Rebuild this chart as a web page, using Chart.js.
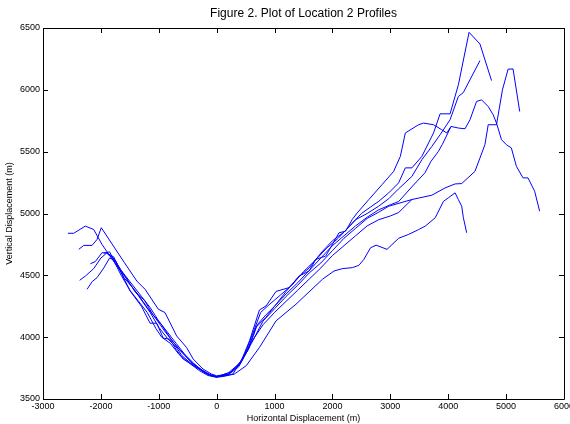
<!DOCTYPE html>
<html>
<head>
<meta charset="utf-8">
<script src="https://cdn.jsdelivr.net/npm/chart.js@4.4.0/dist/chart.umd.min.js"></script>
<style>
  html, body { margin: 0; padding: 0; background: #fff; overflow: hidden; }
  #wrap { width: 577px; height: 424px; }
</style>
</head>
<body>
<div id="wrap"><canvas id="chart"></canvas></div>
<script>
// Profile data (horizontal m, vertical m)
const profileAX = [-2570, -2470, -2270, -2125, -1981, -1850, -1700, -1550, -1400, -1250, -1100, -950, -800, -650, -500, -350, -200, -80, 0, 250, 450, 600, 760, 900, 1100, 1300, 1500, 1700, 1900, 2100, 2300, 2500, 2650, 2801, 2973, 3144, 3259, 3373, 3545, 3746, 3860, 4032, 4175, 4360, 4548, 4748];
const profileAY = [4840, 4840, 4898, 4871, 4750, 4660, 4560, 4470, 4360, 4300, 4180, 4100, 3990, 3900, 3830, 3760, 3710, 3685, 3678, 3720, 3820, 4000, 4200, 4260, 4340, 4420, 4530, 4620, 4720, 4800, 4900, 5000, 5050, 5099, 5167, 5248, 5369, 5369, 5462, 5651, 5806, 5806, 6040, 6465, 6371, 6075];

const profileBX = [-2383, -2297, -2153, -2067, -1993, -1593, -1380, -1237, -1008, -893, -692, -521, -405, -235, -91, 0, 200, 350, 550, 700, 850, 1000, 1200, 1400, 1600, 1800, 2000, 2200, 2400, 2600, 2801, 2973, 3144, 3373, 3545, 3718, 3860, 4032, 4175, 4261, 4548];
const profileBY = [4710, 4742, 4742, 4790, 4885, 4602, 4454, 4387, 4226, 4199, 4010, 3917, 3823, 3742, 3702, 3688, 3700, 3760, 3900, 4100, 4180, 4250, 4370, 4480, 4560, 4680, 4780, 4850, 4950, 5000, 5060, 5120, 5200, 5300, 5435, 5543, 5637, 5758, 5946, 5978, 6236];

const profileCX = [-2182, -2100, -1981, -1900, -1800, -1650, -1500, -1350, -1200, -1050, -950, -800, -650, -500, -300, -150, 0, 150, 280, 424, 567, 739, 854, 1026, 1254, 1426, 1598, 1713, 1884, 2113, 2228, 2342, 2428, 2629, 2858, 3058, 3173, 3259, 3488, 3574, 3746, 3889, 3975, 4049, 4175, 4290, 4376, 4490, 4576, 4691, 4777, 4834, 4920, 5005, 5091, 5177, 5292, 5378, 5493, 5579];
const profileCY = [4594, 4610, 4683, 4680, 4640, 4500, 4380, 4290, 4200, 4070, 4000, 3950, 3860, 3800, 3730, 3690, 3675, 3685, 3702, 3809, 3970, 4220, 4253, 4370, 4401, 4495, 4535, 4629, 4656, 4844, 4857, 4952, 5005, 5113, 5234, 5341, 5462, 5651, 5718, 5731, 5718, 5677, 5651, 5704, 5691, 5685, 5758, 5906, 5919, 5865, 5798, 5731, 5597, 5556, 5530, 5382, 5288, 5288, 5180, 5019];

const profileDX = [-2367, -2268, -2125, -2000, -1900, -1780, -1650, -1495, -1300, -1151, -1036, -923, -808, -700, -579, -400, -235, -100, 0, 200, 400, 600, 800, 1000, 1200, 1400, 1600, 1800, 2000, 2200, 2400, 2600, 2801, 2973, 3373, 3718, 3947, 4118, 4233, 4462, 4634, 4691, 4834, 4937, 5034, 5120, 5235];
const profileDY = [4460, 4494, 4554, 4640, 4680, 4650, 4520, 4373, 4250, 4113, 4113, 3992, 3984, 3900, 3823, 3770, 3729, 3690, 3680, 3700, 3780, 3950, 4130, 4230, 4330, 4420, 4520, 4600, 4700, 4800, 4880, 4960, 5011, 5059, 5113, 5148, 5207, 5239, 5242, 5341, 5556, 5718, 5718, 6000, 6167, 6169, 5825];

const profileEX = [-2239, -2150, -2067, -1950, -1850, -1750, -1600, -1450, -1300, -1150, -1000, -850, -700, -600, -450, -300, -150, 0, 300, 510, 739, 1026, 1369, 1827, 2027, 2170, 2342, 2457, 2543, 2658, 2755, 2943, 3144, 3316, 3488, 3603, 3775, 3918, 4003, 4118, 4175, 4233, 4261, 4319];
const profileEY = [4387, 4450, 4481, 4560, 4640, 4620, 4480, 4400, 4300, 4200, 4080, 3990, 3920, 3850, 3790, 3740, 3700, 3680, 3700, 3769, 3917, 4132, 4266, 4468, 4535, 4554, 4562, 4581, 4629, 4723, 4744, 4710, 4800, 4831, 4870, 4898, 4965, 5099, 5127, 5167, 5113, 5059, 4968, 4844];

const profileFX = [-1950, -1850, -1750, -1600, -1450, -1300, -1150, -1000, -850, -700, -550, -400, -250, -100, 0, 200, 380, 520, 680, 850, 1000, 1200, 1400, 1600, 1800, 2000, 2200, 2400, 2600, 2800, 3000, 3144, 3400, 3600, 3700, 3832, 3900, 4049];
const profileFY = [4680, 4690, 4600, 4510, 4420, 4330, 4240, 4130, 4040, 3950, 3860, 3790, 3730, 3695, 3680, 3695, 3760, 3880, 4080, 4160, 4250, 4350, 4440, 4540, 4640, 4740, 4820, 4900, 4970, 5030, 5070, 5097, 5230, 5330, 5420, 5503, 5560, 5704];

const profileGX = [-1880, -1780, -1650, -1500, -1350, -1200, -1050, -900, -750, -600, -450, -300, -150, 0, 200, 400, 600, 800, 1000, 1200, 1400, 1600, 1800, 2000, 2200, 2400, 2600, 2800, 3000, 3144, 3373];
const profileGY = [4670, 4640, 4540, 4430, 4340, 4240, 4150, 4050, 3960, 3880, 3800, 3750, 3700, 3680, 3710, 3790, 3960, 4100, 4200, 4290, 4380, 4470, 4560, 4660, 4740, 4820, 4900, 4950, 4980, 5008, 5113];

const profilesX = [profileAX, profileBX, profileCX, profileDX, profileEX, profileFX, profileGX];
const profilesY = [profileAY, profileBY, profileCY, profileDY, profileEY, profileFY, profileGY];

const xTicks = [-3000, -2000, -1000, 0, 1000, 2000, 3000, 4000, 5000, 6000];
const yTicks = [3500, 4000, 4500, 5000, 5500, 6000, 6500];

const titleText = 'Figure 2. Plot of Location 2 Profiles';
const xLabel = 'Horizontal Displacement (m)';
const yLabel = 'Vertical Displacement (m)';

const FONT = '"Liberation Sans", Arial, sans-serif';

const datasets = profilesX.map((xs, i) => ({
  data: xs.map((x, j) => ({ x: x, y: profilesY[i][j] })),
  borderColor: '#0000ff',
  borderWidth: 1,
  pointRadius: 0,
  fill: false,
  tension: 0
}));

// MATLAB style box with inward ticks and title centred on the axes
const boxPlugin = {
  id: 'box',
  afterDraw(chart) {
    const { ctx, chartArea: a, scales } = chart;
    ctx.save();
    ctx.strokeStyle = '#000';
    ctx.lineWidth = 1;
    ctx.beginPath();
    ctx.rect(Math.round(a.left) + 0.5, Math.round(a.top) + 0.5,
      Math.round(a.right - a.left), Math.round(a.bottom - a.top));
    xTicks.forEach(v => {
      const px = Math.round(scales.x.getPixelForValue(v)) + 0.5;
      ctx.moveTo(px, a.bottom); ctx.lineTo(px, a.bottom - 5);
      ctx.moveTo(px, a.top); ctx.lineTo(px, a.top + 5);
    });
    yTicks.forEach(v => {
      const py = Math.round(scales.y.getPixelForValue(v)) + 0.5;
      ctx.moveTo(a.left, py); ctx.lineTo(a.left + 5, py);
      ctx.moveTo(a.right, py); ctx.lineTo(a.right - 5, py);
    });
    ctx.stroke();
    ctx.fillStyle = '#000';
    ctx.font = '12px ' + FONT;
    ctx.textAlign = 'center';
    ctx.textBaseline = 'middle';
    ctx.fillText(titleText, (a.left + a.right) / 2, 14);
    ctx.restore();
  }
};

new Chart(document.getElementById('chart'), {
  type: 'line',
  data: { datasets: datasets },
  plugins: [boxPlugin],
  options: {
    responsive: true,
    maintainAspectRatio: false,
    animation: false,
    layout: { padding: { top: 28, left: 0, right: 0, bottom: -1 } },
    plugins: {
      legend: { display: false },
      tooltip: { enabled: false }
    },
    scales: {
      x: {
        type: 'linear',
        min: -3000,
        max: 6000,
        grid: { display: false, drawTicks: false },
        border: { display: false },
        afterBuildTicks: axis => { axis.ticks = xTicks.map(v => ({ value: v })); },
        ticks: { color: '#000', font: { family: FONT, size: 9, lineHeight: 1 }, padding: 3, maxRotation: 0, callback: v => String(v) },
        title: { display: true, text: xLabel, color: '#000', font: { family: FONT, size: 9, lineHeight: 1 }, padding: { top: 0, bottom: 2 } }
      },
      y: {
        min: 3500,
        max: 6500,
        grid: { display: false, drawTicks: false },
        border: { display: false },
        afterBuildTicks: axis => { axis.ticks = yTicks.map(v => ({ value: v })); },
        ticks: { color: '#000', font: { family: FONT, size: 9, lineHeight: 1 }, padding: 3, callback: v => String(v) },
        title: { display: true, text: yLabel, color: '#000', font: { family: FONT, size: 9, lineHeight: 1 }, padding: { top: 5, bottom: 3 } }
      }
    }
  }
});
</script>
</body>
</html>
